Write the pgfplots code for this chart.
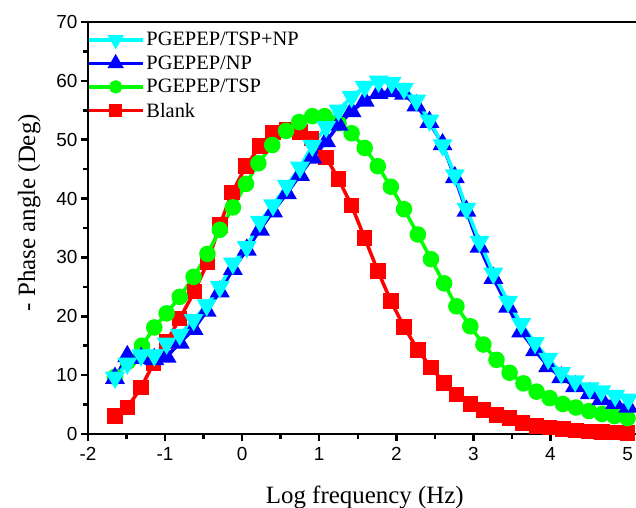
\documentclass[border=0pt]{standalone}
\usepackage{pgfplots}
\pgfplotsset{compat=1.18}
\usepackage{fontspec}
\setmainfont{Liberation Serif}
\newfontfamily\ticksans{Liberation Sans}
\definecolor{cCyan}{RGB}{0,255,255}
\definecolor{cBlue}{RGB}{0,0,255}
\definecolor{cGreen}{RGB}{0,255,0}
\definecolor{cRed}{RGB}{255,0,0}

% phase angle vs log frequency
\pgfplotstableread{
x y
-1.65 3.1
-1.49 4.5
-1.31 7.9
-1.15 12.0
-0.98 15.7
-0.81 19.6
-0.62 24.2
-0.45 29.1
-0.29 35.5
-0.13 41.0
0.05 45.5
0.23 48.9
0.40 51.2
0.58 51.7
0.75 51.3
0.90 50.2
1.09 47.0
1.25 43.3
1.42 38.8
1.59 33.3
1.76 27.7
1.93 22.6
2.10 18.2
2.28 14.3
2.45 11.3
2.62 8.7
2.78 6.7
2.96 5.1
3.13 4.1
3.30 3.2
3.47 2.7
3.64 1.9
3.82 1.4
3.99 1.1
4.16 0.85
4.33 0.6
4.50 0.45
4.67 0.35
4.83 0.25
5.00 0.2
}\blank
\pgfplotstableread{
x y
-1.65 9.7
-1.48 12.3
-1.30 15.0
-1.14 18.1
-0.98 20.5
-0.81 23.3
-0.63 26.7
-0.45 30.6
-0.29 34.7
-0.12 38.5
0.05 42.5
0.21 46.0
0.39 49.1
0.57 51.5
0.74 53.0
0.91 54.0
1.07 54.0
1.25 52.8
1.42 51.1
1.59 48.6
1.76 45.5
1.93 42.0
2.10 38.2
2.28 33.9
2.45 29.7
2.62 25.6
2.78 21.7
2.96 18.3
3.13 15.2
3.30 12.6
3.47 10.4
3.65 8.6
3.82 7.2
3.99 6.1
4.16 5.1
4.33 4.5
4.50 3.9
4.67 3.4
4.83 3.05
5.00 2.7
}\tsp
\pgfplotstableread{
x y
-1.65 9.5
-1.49 13.2
-1.31 12.9
-1.14 12.7
-0.98 13.1
-0.81 15.5
-0.63 17.8
-0.46 20.9
-0.29 24.2
-0.12 28.0
0.06 31.3
0.23 34.7
0.40 37.8
0.58 40.9
0.75 44.0
0.91 46.9
1.09 49.7
1.25 52.5
1.42 54.8
1.59 56.6
1.77 57.9
1.94 58.2
2.10 57.8
2.26 55.8
2.43 53.0
2.60 49.2
2.76 43.6
2.91 37.9
3.08 31.8
3.26 26.5
3.45 21.6
3.62 17.4
3.80 14.2
3.97 11.5
4.14 9.6
4.32 8.1
4.51 6.9
4.66 5.9
4.84 5.25
5.01 4.6
}\np
\pgfplotstableread{
x y
-1.65 9.6
-1.49 12.0
-1.31 13.4
-1.14 13.4
-0.98 15.4
-0.81 16.9
-0.63 19.4
-0.46 21.9
-0.29 25.0
-0.12 29.0
0.06 31.8
0.23 36.1
0.40 38.9
0.58 42.2
0.75 45.3
0.91 49.0
1.09 52.2
1.25 55.0
1.42 57.3
1.59 59.0
1.77 59.9
1.94 59.7
2.10 58.7
2.26 56.7
2.43 53.3
2.60 49.1
2.76 44.0
2.91 38.3
3.08 32.7
3.26 27.3
3.45 22.5
3.62 18.7
3.80 15.5
3.97 12.8
4.14 10.4
4.32 9.0
4.51 7.8
4.66 7.3
4.84 6.5
5.01 5.9
}\tspnp

\begin{document}
\begin{tikzpicture}
\path[use as bounding box] (-88bp,-74bp) rectangle (548bp,434bp);
\begin{axis}[
  scale only axis, width=548bp, height=412bp,
  xmin=-2, xmax=5.11, ymin=0, ymax=70,
  axis x line*=bottom, axis y line*=left,
  xtick={-2,...,5}, ytick={0,10,...,70},
  minor x tick num=1, minor y tick num=1,
  tick align=outside,
  major tick length=7bp, minor tick length=5bp,
  every tick/.style={black, line width=2.5bp},
  axis line style={line width=2.5bp},
  tick label style={font=\ticksans\fontsize{19}{21}\selectfont},
  xticklabel shift=3bp,
  /pgf/number format/assume math mode=true,
  xlabel={Log frequency (Hz)}, ylabel={- Phase angle (Deg)},
  label style={font=\fontsize{25}{28}\selectfont},
  xlabel style={at={(ticklabel cs:0.505)}},
  ylabel style={at={(ticklabel cs:0.537)}},
  xlabel shift=18bp, ylabel shift=9bp,
  clip=false,
  reverse legend,
  legend style={at={(rel axis cs:-0.006,0.985)}, anchor=north west, draw=none, fill=none,
    font=\fontsize{20.5}{22}\selectfont, row sep=4.5bp, inner xsep=2bp},
  legend cell align=left,
  legend image code/.code={\draw[mark repeat=2,mark phase=2,every mark/.append style={scale=0.75}] plot coordinates {(0bp,0bp) (27bp,0bp) (54bp,0bp)};},
]
\addplot[cRed, line width=3.5bp, mark=square*, mark size=6bp] table {\blank};
\addlegendentry{Blank}
\addplot[cGreen, line width=3.5bp, mark=*, mark size=6.5bp] table {\tsp};
\addlegendentry{PGEPEP/TSP}
\addplot[cBlue, line width=3.5bp, mark=triangle*, mark size=8bp] table {\np};
\addlegendentry{PGEPEP/NP}
\addplot[cCyan, line width=3.5bp, mark=triangle*, mark size=8bp, mark options={rotate=180}] table {\tspnp};
\addlegendentry{PGEPEP/TSP+NP}
\draw[line width=2.5bp] (rel axis cs:0,1) -- (rel axis cs:1,1);
\end{axis}
\end{tikzpicture}
\end{document}
